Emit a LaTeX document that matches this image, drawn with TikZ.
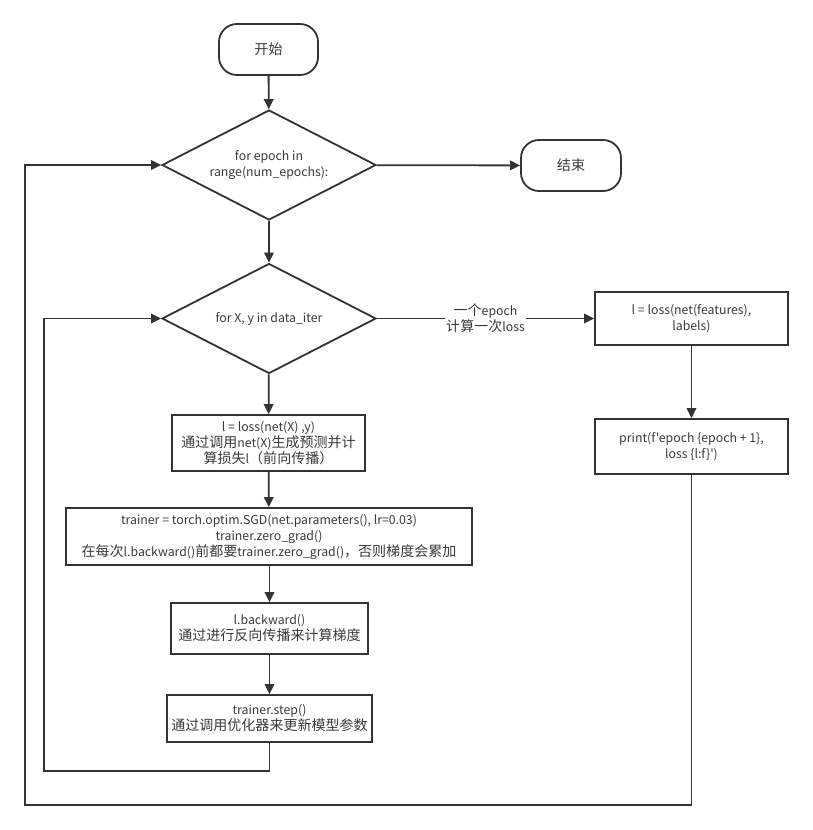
\documentclass[tikz,border=0pt]{standalone}
\usepackage{fontspec}
\setmainfont{Noto Sans CJK SC}[Ligatures=TeXOff]
\newfontfamily\cjkfont{Noto Sans CJK SC}[Scale=1.14]
\newcommand\zh[1]{{\cjkfont #1}}
\usetikzlibrary{shapes.geometric,arrows.meta}
\definecolor{ln}{HTML}{333333}
\definecolor{txt}{HTML}{3a3a3a}
\begin{document}
\begin{tikzpicture}[x=1pt,y=-1pt,
  box/.style={draw=ln, line width=1.8pt, text=txt, align=center, inner sep=0pt,
    font=\fontsize{12.3}{16}\selectfont},
  term/.style={box, rounded corners=18pt},
  dec/.style={box, diamond, aspect=2},
  arr/.style={draw=ln, line width=1.8pt, -{Triangle[length=10pt,width=9.5pt]}},
  ln/.style={draw=ln, line width=1.8pt}]
\useasboundingbox (0,0) rectangle (813,830);
\node[term, minimum width=99pt, minimum height=51pt] (start) at (268.5,49.5) {\zh{开始}};
\node[dec, minimum width=214pt, minimum height=110pt] (d1) at (269,165) {for epoch in\\range(num\_epochs):};
\node[term, minimum width=100pt, minimum height=51pt] (end) at (571,165.5) {\zh{结束}};
\node[dec, minimum width=214pt, minimum height=110pt] (d2) at (269,318.5) {for X, y in data\_iter};
\node[box, minimum width=193pt, minimum height=53pt] (r1) at (691.5,318.5) {l = loss(net(features),\\labels)};
\node[box, minimum width=193pt, minimum height=55pt] (r2) at (691.5,446.5) {print(f'epoch \{epoch + 1\},\\loss \{l:f\}')};
\node[box, minimum width=193pt, minimum height=56pt] (a) at (268.5,443) {l = loss(net(X) ,y)\\\zh{通过调用}net(X)\zh{生成预测并计}\\\zh{算损失}l\zh{（前向传播）}};
\node[box, minimum width=406pt, minimum height=57pt] (b) at (269,536.5) {trainer = torch.optim.SGD(net.parameters(), lr=0.03)\\trainer.zero\_grad()\\\zh{在每次}l.backward()\zh{前都要}trainer.zero\_grad()\zh{，否则梯度会累加}};
\node[box, minimum width=197pt, minimum height=51pt] (c) at (269.5,628.5) {l.backward()\\\zh{通过进行反向传播来计算梯度}};
\node[box, minimum width=205pt, minimum height=47pt] (d) at (269.5,718.5) {trainer.step()\\\zh{通过调用优化器来更新模型参数}};
\coordinate (i1) at (269.5,771);
\coordinate (i2) at (44,771);
\coordinate (o1) at (691.5,805);
\coordinate (o2) at (25,805);
\draw[arr] (start) -- (d1);
\draw[arr] (d1) -- (end);
\draw[arr] (d1) -- (d2);
\draw[arr] (d2.east) -- node[fill=white, inner sep=1pt, text=txt, align=center, font=\fontsize{12.3}{14.5}\selectfont] {\zh{一个}epoch\\\zh{计算一次}loss} (r1.west);
\draw[arr] (r1) -- (r2);
\draw[arr] (d2) -- (a);
\draw[arr] (a) -- (b);
\draw[arr] (b.south -| c) -- (c);
\draw[arr] (c) -- (d);
\draw[arr] (d.south) -- (i1) -- (i2) -- (i2 |- d2.west) -- (d2.west);
\draw[arr] (r2.south) -- (o1) -- (o2) -- (o2 |- d1.west) -- (d1.west);
\end{tikzpicture}
\end{document}
